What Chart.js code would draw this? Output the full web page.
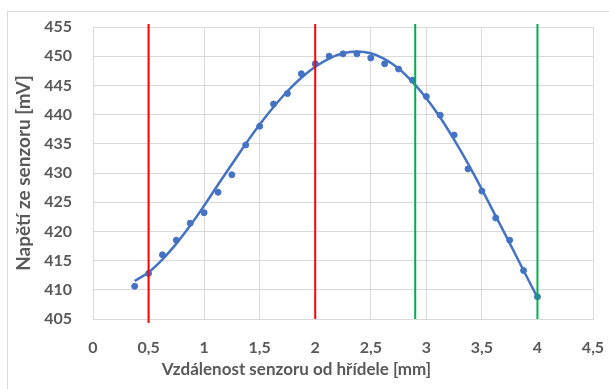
<!DOCTYPE html>
<html>
<head>
<meta charset="utf-8">
<script src="https://cdn.jsdelivr.net/npm/chart.js@4"></script>
<style>
  body { margin: 0; background: #fff; }
  #wrap { position: relative; width: 609px; height: 389px; overflow: hidden; }
  #frame { position: absolute; left: 7px; top: 11px; width: 620px; height: 400px; border: 1px solid #d9d9d9; }
  canvas { position: absolute; left: 0; top: 0; }
</style>
</head>
<body>
<div id="wrap">
  <div id="frame"></div>
  <canvas id="chart" width="609" height="389"></canvas>
</div>
<script>
// measured points
let distances = [0.375, 0.5, 0.625, 0.75, 0.875, 1, 1.125, 1.25, 1.375, 1.5, 1.625, 1.75, 1.875, 2, 2.125,
    2.25, 2.375, 2.5, 2.625, 2.75, 2.875, 3, 3.125, 3.25, 3.375, 3.5, 3.625, 3.75, 3.875, 4];
let voltages = [410.6, 412.8, 416.0, 418.5, 421.4, 423.2, 426.7, 429.7, 434.8, 438.0, 441.8, 443.6, 447.0, 448.7, 450.0,
    450.4, 450.4, 449.7, 448.7, 447.8, 445.9, 443.1, 439.9, 436.5, 430.7, 426.9, 422.3, 418.5, 413.3, 408.8];
// trendline
let trendValues = [411.5, 413.0, 415.2, 417.9, 421.0, 424.4, 428.0, 431.5, 435.0, 438.3, 441.3, 444.0, 446.3, 448.2, 449.6,
    450.5, 450.8, 450.5, 449.5, 447.9, 445.6, 442.8, 439.5, 435.7, 431.6, 427.2, 422.6, 418.0, 413.3, 408.7];

// vertical marker lines
let redLines = [0.5, 2];
let greenLines = [2.9, 4];
let lineTop = 455.5;
let lineBottom = 405;

let xTitle = "Vzdálenost senzoru od hřídele [mm]";
let yTitle = "Napětí ze senzoru [mV]";

let font = "Lato";
let textColor = "#595959";

function toPoints(xs, ys) {
    return xs.map((x, i) => { return { x: x, y: ys[i] } });
}

function markerLine(x, color, bottom) {
    return {
        data: [{ x: x, y: bottom }, { x: x, y: lineTop }],
        showLine: true,
        borderColor: color,
        borderWidth: 2,
        pointRadius: 0,
        clip: false
    };
}

let datasets = [];
datasets.push(markerLine(redLines[0], "#ff0000", 404.3));
datasets.push(markerLine(redLines[1], "#ff0000", lineBottom));
greenLines.forEach((x) => { datasets.push(markerLine(x, "#00b050", lineBottom)) });

datasets.push({
    data: toPoints(distances, trendValues),
    showLine: true,
    tension: 0.4,
    borderColor: "#4472c4",
    borderWidth: 2.5,
    pointRadius: 0
});
datasets.push({
    data: toPoints(distances, voltages),
    showLine: false,
    backgroundColor: "#4472c4",
    borderColor: "#4472c4",
    pointRadius: 3
});

new Chart(document.getElementById("chart"), {
    type: "scatter",
    data: { datasets: datasets },
    options: {
        responsive: false,
        animation: false,
        layout: { padding: { left: 0, top: 27, right: 16, bottom: 0 } },
        plugins: {
            legend: { display: false },
            tooltip: { enabled: false },
            // x axis title, centred on the whole chart like the original
            title: {
                display: true,
                position: "bottom",
                text: xTitle,
                color: textColor,
                font: { family: font, size: 17, weight: "bold" },
                padding: { top: 0, bottom: 9 }
            }
        },
        scales: {
            x: {
                min: 0,
                max: 4.5,
                afterFit: (s) => {
                    s.height = 40.6;
                    s.paddingLeft = 0;
                    s.paddingRight = 0;
                },
                grid: { color: "#d9d9d9", drawTicks: false },
                border: { color: "#d9d9d9" },
                ticks: {
                    stepSize: 0.5,
                    padding: 19,
                    color: textColor,
                    font: { family: font, size: 16, weight: "bold" },
                    callback: (v) => String(v).replace(".", ",")
                }
            },
            y: {
                min: 405,
                max: 455,
                afterFit: (s) => {
                    s.width = 93;
                    s.paddingTop = 0;
                    s.paddingBottom = 0;
                },
                grid: { color: "#d9d9d9", drawTicks: false },
                border: { color: "#d9d9d9" },
                ticks: {
                    stepSize: 5,
                    padding: 21,
                    color: textColor,
                    font: { family: font, size: 16, weight: "bold" }
                },
                title: {
                    display: true,
                    text: yTitle,
                    color: textColor,
                    font: { family: font, size: 19, weight: "bold" },
                    padding: { top: 12, bottom: 0 }
                }
            }
        }
    }
});
</script>
</body>
</html>
